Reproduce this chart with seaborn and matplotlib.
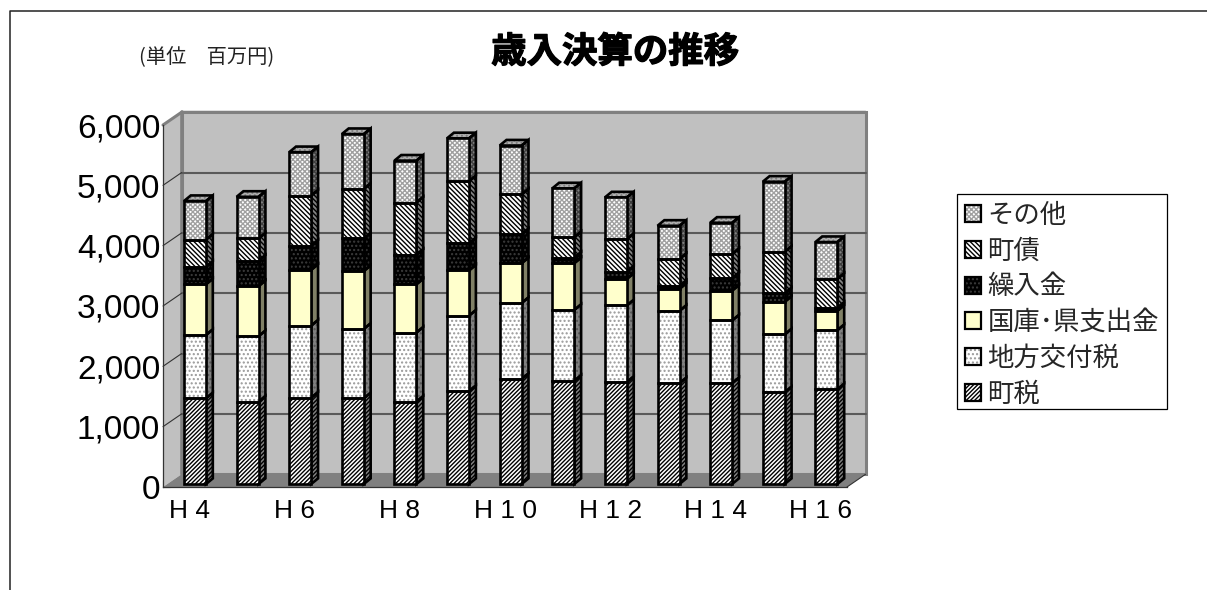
import numpy as np
import matplotlib
matplotlib.use("Agg")
import matplotlib.pyplot as plt
import matplotlib.patheffects as pe
from matplotlib.legend_handler import HandlerTuple
from matplotlib.lines import Line2D
from matplotlib.patches import Patch, Polygon, Rectangle
import pandas as pd
import seaborn as sns

years = ["H4", "H5", "H6", "H7", "H8", "H9", "H10", "H11", "H12", "H13", "H14", "H15", "H16"]
tick_labels = ["H 4", "", "H 6", "", "H 8", "", "H 1 0", "", "H 1 2", "", "H 1 4", "", "H 1 6"]

town_tax = [1420, 1365, 1430, 1420, 1365, 1540, 1740, 1710, 1690, 1670, 1670, 1520, 1570]
local_grant = [1050, 1085, 1195, 1150, 1145, 1250, 1260, 1175, 1270, 1200, 1040, 960, 980]
subsidies = [840, 830, 925, 960, 800, 750, 660, 775, 440, 365, 495, 540, 320]
transfers = [290, 420, 400, 540, 490, 450, 480, 90, 120, 45, 205, 140, 50]
town_bonds = [450, 370, 830, 820, 865, 1030, 660, 340, 540, 450, 400, 690, 480]
others = [640, 690, 720, 910, 695, 710, 810, 810, 690, 550, 520, 1160, 610]

series_names = ["町税", "地方交付税", "国庫･県支出金", "繰入金", "町債", "その他"]
series_values = [town_tax, local_grant, subsidies, transfers, town_bonds, others]

# face colour, hatch, hatch colour, side colour, side hatch colour
styles = [
    ("white", "////////", "black", "#808080", "black"),
    ("white", "....", "#999999", "#808080", "#555555"),
    ("#FFFFCC", "", "#FFFFCC", "#808066", "#808066"),
    ("black", "....", "#3C3C3C", "black", "#303030"),
    ("white", "\\\\\\\\\\\\\\", "black", "#808080", "black"),
    ("white", "xxxxxxx", "#A0A0A0", "#808080", "#404040"),
]

sns.set_style("white")
plt.rcParams["font.family"] = ["Noto Sans CJK JP", "DejaVu Sans"]
plt.rcParams["hatch.linewidth"] = 1.0

W, H = 1207, 590
fig = plt.figure(figsize=(W / 100, H / 100), dpi=100, facecolor="white")


def rect(left, right, bottom, top):
    return [left / W, 1 - bottom / H, (right - left) / W, (bottom - top) / H]


# Front plane of the chart box, carrying the axes, ticks and labels
ax = fig.add_axes(rect(163, 847, 487, 125))
ax.set_xlim(-0.5, 12.5)
ax.set_ylim(0, 6000)
ax.patch.set_alpha(0)

back_dx = 18.5 / 52.6
back_dy = 12.7 / 60.33 * 1000
x0, x1 = -0.5, 12.5

wall_grey, floor_grey = "#C0C0C0", "#808080"
ax.add_patch(Polygon([(x0 + back_dx, back_dy), (x1 + back_dx, back_dy),
                      (x1 + back_dx, 6000 + back_dy), (x0 + back_dx, 6000 + back_dy)],
                     fc=wall_grey, ec=floor_grey, lw=2.2, clip_on=False, zorder=0.5))
ax.add_patch(Polygon([(x0, 0), (x0 + back_dx, back_dy), (x0 + back_dx, 6000 + back_dy), (x0, 6000)],
                     fc=wall_grey, ec="none", clip_on=False, zorder=0.6))
ax.add_patch(Polygon([(x0, 0), (x1, 0), (x1 + back_dx, back_dy), (x0 + back_dx, back_dy)],
                     fc=floor_grey, ec="none", clip_on=False, zorder=0.6))
ax.plot([x0, x0 + back_dx, x1 + back_dx], [6000, 6000 + back_dy, 6000 + back_dy],
        color=floor_grey, lw=2.2, clip_on=False, zorder=0.7)
ax.plot([x0 + back_dx, x0 + back_dx], [back_dy, 6000 + back_dy],
        color=floor_grey, lw=2.6, clip_on=False, zorder=0.7)
ax.plot([x1, x1 + back_dx], [0, back_dy], color="#333333", lw=0.8, clip_on=False, zorder=0.8)

for level in range(1000, 6000, 1000):
    ax.plot([x0 + back_dx, x1 + back_dx], [level + back_dy] * 2, color="#5A5A5A", lw=1.5,
            clip_on=False, zorder=0.8)
    ax.plot([x0, x0 + back_dx], [level, level + back_dy], color="#333333", lw=0.8,
            clip_on=False, zorder=0.8)

ax.set_yticks(range(0, 6001, 1000))
ax.set_yticklabels([f"{v:,}" for v in range(0, 6001, 1000)], family="Liberation Sans", fontsize=24,
                   color="black")
ax.set_xticks(range(13))
ax.set_xticklabels(tick_labels, family="Liberation Sans", fontsize=19, color="black")
ax.set_xticks(np.arange(-0.5, 13), minor=True)
ax.tick_params(axis="x", which="major", length=0, pad=9)
ax.tick_params(axis="x", which="minor", direction="in", length=5, width=0.8, color="#333333", bottom=True)
ax.tick_params(axis="y", direction="in", length=5, width=0.8, color="#333333", pad=2, left=True)
for side in ("top", "right"):
    ax.spines[side].set_visible(False)
for side in ("left", "bottom"):
    ax.spines[side].set_color("#333333")
    ax.spines[side].set_linewidth(0.9)
    ax.spines[side].set_zorder(0.9)
ax.set_xlabel("")
ax.set_ylabel("")

# Bars stand a little behind the front plane
bar_ax = fig.add_axes(rect(168.7, 852.7, 484, 122))
bar_ax.patch.set_alpha(0)
bar_ax.set_axis_off()

depth_x = 6.8 / 52.6
depth_y = 5.6 / 60.33 * 1000
edge = dict(ec="black", lw=1.9, joinstyle="miter")

bottom = np.zeros(len(years))
for name, values, style in zip(series_names, series_values, styles):
    face, hatch, hatch_col, side_col, side_hatch = style
    frame = pd.DataFrame({"year": years, "value": values})
    before = len(bar_ax.patches)
    sns.barplot(data=frame, x="year", y="value", ax=bar_ax, color=face, saturation=1,
                width=22 / 52.6, errorbar=None, bottom=bottom, linewidth=0,
                edgecolor=hatch_col, hatch=hatch, zorder=3)
    for bar in bar_ax.patches[before:len(bar_ax.patches)]:
        bar.set_edgecolor(hatch_col)
        bar.set_facecolor(face)
        bar.set_linewidth(0)
        bar.set_zorder(3)
        xl, yb = bar.get_xy()
        w, h = bar.get_width(), bar.get_height()
        xr = xl + w
        side_face = [(xr, yb), (xr + depth_x, yb + depth_y), (xr + depth_x, yb + h + depth_y), (xr, yb + h)]
        bar_ax.add_patch(Polygon(side_face, fc=side_col, ec=side_hatch, lw=0, hatch=hatch, zorder=2, clip_on=False))
        bar_ax.add_patch(Polygon(side_face, fill=False, zorder=2.5, clip_on=False, **edge))
        bar_ax.add_patch(Rectangle((xl, yb), w, h, fill=False, zorder=4, clip_on=False, **edge))
    bottom = bottom + np.array(values)

# Lid of each column, carrying the top series' pattern
for xc, total in zip(range(len(years)), bottom):
    half = 11 / 52.6
    top_face = [(xc - half, total), (xc + half, total),
                (xc + half + depth_x, total + depth_y), (xc - half + depth_x, total + depth_y)]
    bar_ax.add_patch(Polygon(top_face, fc="#808080", ec="#B0B0B0", lw=0, hatch="xxxxxxx", zorder=2, clip_on=False))
    bar_ax.add_patch(Polygon(top_face, fill=False, zorder=2.5, clip_on=False, **edge))

bar_ax.set_xlim(-0.5, 12.5)
bar_ax.set_ylim(0, 6000)
bar_ax.set_axis_off()

# Legend lists the series from the top of the stack downwards
handles = []
for name, style in zip(series_names[::-1], styles[::-1]):
    filled = Patch(facecolor=style[0], edgecolor=style[2], hatch=style[1], linewidth=0)
    outline = Patch(facecolor="none", edgecolor="black", linewidth=1.6)
    handles.append((filled, outline))
fig.add_artist(Rectangle((957 / W, 1 - 409 / H), 210 / W, 215 / H, transform=fig.transFigure,
                         fc="white", ec="black", lw=0.9, zorder=1))
legend = fig.legend(handles=handles, labels=series_names[::-1], loc="upper left",
                    bbox_to_anchor=(960 / W, 1 - 197 / H), bbox_transform=fig.transFigure,
                    handler_map={tuple: HandlerTuple(ndivide=1, pad=0)},
                    fontsize=19, frameon=False, handlelength=0.6, handleheight=0.6,
                    handletextpad=0.25, labelspacing=0.33, borderpad=0.19, borderaxespad=0)
legend.set_zorder(2)

title = fig.text(615 / W, 1 - 52 / H, "歳入決算の推移", fontsize=25.5, fontweight="bold", ha="center",
                 va="center", color="black")
title.set_path_effects([pe.withStroke(linewidth=0.9, foreground="black")])
fig.text(139 / W, 1 - 58 / H, "(単位\u3000百万円)", fontsize=14.6, ha="left", va="center", color="#222222")

# Outer chart frame, running off the right and bottom of the canvas
fig.add_artist(Line2D([10 / W, 10 / W, 1.0], [0, 1 - 11 / H, 1 - 11 / H], color="#222222", lw=1.1,
                      transform=fig.transFigure))

fig.savefig("out.png", dpi=100)
